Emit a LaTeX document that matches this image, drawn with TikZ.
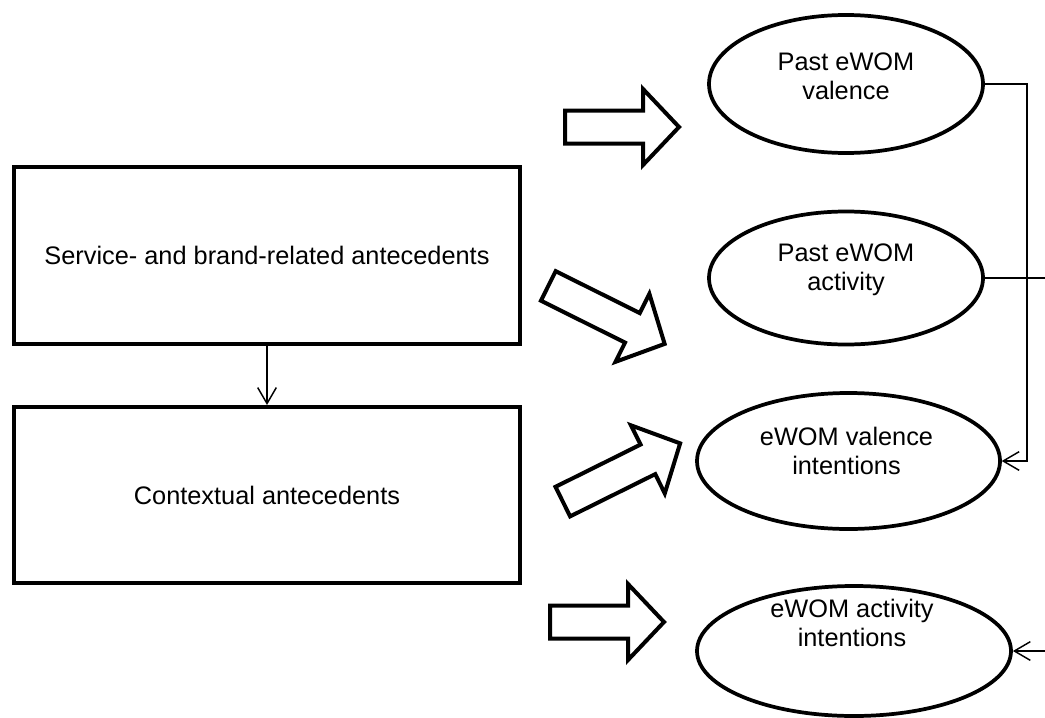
\documentclass[tikz,border=0pt]{standalone}
\usepackage{fontspec}
\setmainfont{Liberation Sans}
\usetikzlibrary{arrows.meta,shapes.geometric,calc}
\newcommand{\blockarr}[3]{%
  \draw[barrow,shift={(#1)},rotate=#2]
    (0,-16.5) -- ({#3-36},-16.5) -- ({#3-36},-38) -- (#3,0) --
    ({#3-36},38) -- ({#3-36},16.5) -- (0,16.5) -- cycle;}
\begin{document}
\begin{tikzpicture}[x=0.75pt,y=-0.75pt,
  box/.style={draw,line width=3pt,rectangle,inner sep=0pt,
    minimum width=379.5pt,font=\fontsize{19}{22}\selectfont},
  ell/.style={ellipse,inner sep=0pt,outer sep=1.4pt},
  ellline/.style={draw,line width=2.8pt},
  lbl/.style={align=center,inner sep=0pt,font=\fontsize{19}{21.8}\selectfont},
  conn/.style={line width=1.1pt,-{Straight Barb[length=12pt,width=14pt,line width=1.1pt]}},
  plainline/.style={line width=1.1pt},
  barrow/.style={draw,line width=3pt,line join=miter,fill=white}]

\useasboundingbox (0,0) rectangle (1045,717);

% rectangles
\node[box,minimum height=133pt] (r1) at (267,255.5) {Service- and brand-related antecedents};
\node[box,minimum height=132pt] (r2) at (267,495) {Contextual antecedents};

% ellipses (named nodes for anchors, outlines drawn explicitly)
\node[ell,minimum width=205.5pt,minimum height=103.5pt] (e1) at (846,84) {};
\node[ell,minimum width=205.5pt,minimum height=100pt] (e2) at (846,278) {};
\node[ell,minimum width=227pt,minimum height=102pt] (e3) at (848.5,461) {};
\node[ell,minimum width=235.5pt,minimum height=97.5pt] (e4) at (854,651) {};
\draw[ellline] (e1.center) ellipse [x radius=137, y radius=69];
\draw[ellline] (e2.center) ellipse [x radius=137, y radius=66.5];
\draw[ellline] (e3.center) ellipse [x radius=151.5, y radius=68];
\draw[ellline] (e4.center) ellipse [x radius=157, y radius=65];

% ellipse texts
\node[lbl] (t1) at ($(e1)+(0,-8)$) {Past eWOM\\valence};
\node[lbl] (t2) at ($(e2)+(0,-8)$) {Past eWOM\\activity};
\node[lbl] (t3) at ($(e3)+(-2,-10)$) {eWOM valence\\intentions};
\node[lbl] (t4) at ($(e4)+(-2,-28)$) {eWOM activity\\intentions};

% block arrows
\blockarr{565,127}{0}{114}
\blockarr{548.3,285.9}{-26.5}{130}
\blockarr{562.8,501.6}{26.4}{131}
\blockarr{550,622}{0}{114}

% connectors
\draw[conn] (r1.south) -- (r2.north);

\coordinate (vtop) at (1027,84);
\coordinate (vbot) at (1027,461);
\coordinate (outA) at (1046,278);
\coordinate (outB) at (1046,651);

\draw[conn] (e1.east) -- (vtop) -- (vbot) -- (e3.east);
\draw[plainline] (e2.east) -- (outA);
\draw[conn] (outB) -- (e4.east);
\end{tikzpicture}
\end{document}
